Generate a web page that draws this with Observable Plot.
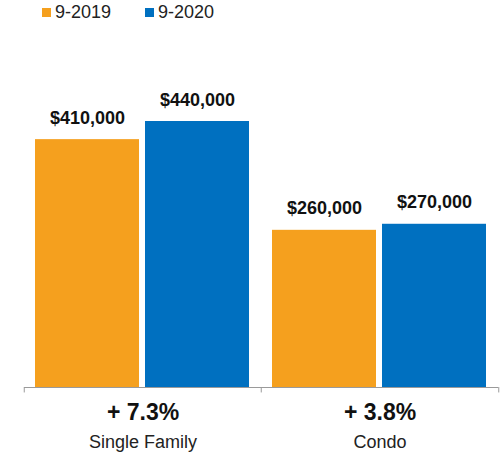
<!DOCTYPE html>
<html>
<head>
<meta charset="utf-8">
<script src="https://cdn.jsdelivr.net/npm/d3@7"></script>
<script src="https://cdn.jsdelivr.net/npm/@observablehq/plot@0.6"></script>
<style>
  html, body { margin: 0; padding: 0; background: #fff; }
  body { width: 503px; height: 455px; overflow: hidden; font-family: "Liberation Sans", Arial, sans-serif; }
  #legend { position: relative; height: 26px; }
  .item { position: absolute; top: 0; height: 25px; display: flex; align-items: center; font-size: 18px; color: #222; }
  .sw { width: 9px; height: 9px; margin-right: 4px; }
  svg { display: block; }
</style>
</head>
<body>
<div id="legend"></div>
<div id="chart"></div>
<script>
const categories = ["Single Family", "Condo"];
const series = ["9-2019", "9-2020"];
const values2019 = [410000, 260000];
const values2020 = [440000, 270000];
const changes = ["+ 7.3%", "+ 3.8%"];
const colors = ["#f5a01e", "#0070c0"];

const bars = [];
categories.forEach((c, i) => {
  bars.push({category: c, series: series[0], value: values2019[i]});
  bars.push({category: c, series: series[1], value: values2020[i]});
});
const cats = categories.map((c, i) => ({category: c, change: changes[i]}));

// legend
const legend = document.getElementById("legend");
const legendX = [42, 145];
series.forEach((s, i) => {
  const it = document.createElement("div");
  it.className = "item";
  it.style.left = legendX[i] + "px";
  it.innerHTML = `<span class="sw" style="background:${colors[i]}"></span><span>${s}</span>`;
  legend.appendChild(it);
});

const W = 503, H = 429;
const mL = 23, mR = 5;
const facetW = (W - mL - mR) / categories.length;
const fmt = d3.format("$,");

const plot = Plot.plot({
  width: W,
  height: H,
  marginLeft: mL,
  marginRight: mR,
  marginTop: 95,
  marginBottom: 68,
  style: {fontFamily: "Liberation Sans, Arial, sans-serif", background: "transparent"},
  fx: {domain: categories, padding: 0, axis: null},
  x: {domain: series, paddingInner: 0.054, paddingOuter: 0.1, axis: null},
  y: {domain: [0, 440000], axis: null},
  color: {domain: series, range: colors},
  marks: [
    Plot.barY(bars, {fx: "category", x: "series", y: "value", fill: "series"}),
    Plot.text(bars, {fx: "category", x: "series", y: "value", text: d => fmt(d.value),
      lineAnchor: "bottom", dy: -16, fontSize: 18, fontWeight: "bold", fill: "#111"}),
    Plot.ruleY([0], {stroke: "#9a9a9a", strokeWidth: 1}),
    Plot.ruleX(cats, {fx: "category", x: null, y1: 0, y2: -9000, dx: -facetW / 2, stroke: "#9a9a9a"}),
    Plot.ruleX(cats.slice(-1), {fx: "category", x: null, y1: 0, y2: -9000, dx: facetW / 2, stroke: "#9a9a9a"}),
    Plot.text(cats, {fx: "category", text: "change", frameAnchor: "bottom", lineAnchor: "bottom",
      dy: 32, fontSize: 23, fontWeight: "bold", fill: "#111"}),
    Plot.text(cats, {fx: "category", text: "category", frameAnchor: "bottom", lineAnchor: "bottom",
      dy: 60, fontSize: 18, fill: "#222"})
  ]
});
document.getElementById("chart").appendChild(plot);
</script>
</body>
</html>
